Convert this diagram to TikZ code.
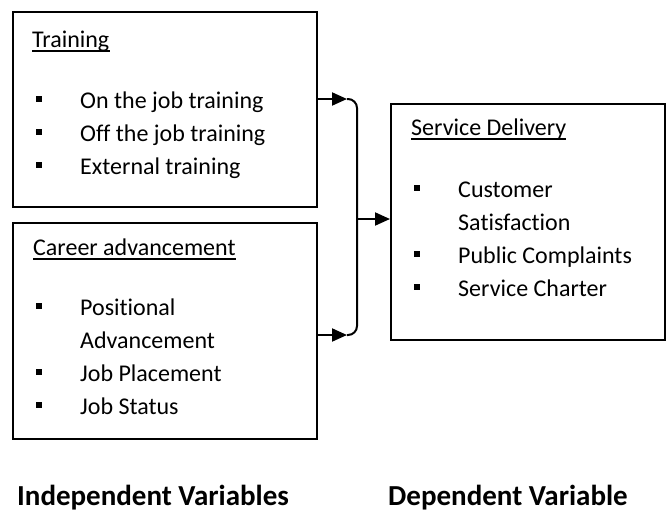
\documentclass[tikz,border=0pt]{standalone}
\usepackage{fontspec}
\setmainfont[Ligatures=NoCommon]{Carlito}
\usetikzlibrary{arrows.meta}

\tikzset{
	box/.style={draw, line width=2pt, anchor=north west, inner sep=0pt},
	item/.style={anchor=base west, inner sep=0pt, font=\fontsize{24}{28}\selectfont},
	foot/.style={anchor=base west, inner sep=0pt, font=\fontsize{29}{34}\selectfont\bfseries},
	uline/.style={line width=1.8pt},
	link/.style={line width=2pt, -{Triangle[length=15pt,width=13pt]}}
}

\begin{document}
\begin{tikzpicture}[x=1pt,y=-1pt]
	\useasboundingbox (0,0) rectangle (668,512);

	% boxes
	\node[box, minimum width=304pt, minimum height=195pt] (train) at (12,11) {};
	\node[box, minimum width=304pt, minimum height=216pt] (career) at (12,222) {};
	\node[box, minimum width=274pt, minimum height=236pt] (svc) at (390,103) {};

	% headings
	\node[item] (trh) at (32,47) {Training};
	\node[item] (cah) at (33,255) {Career advancement};
	\node[item] (svh) at (411,135) {Service Delivery};
	\foreach \h in {trh,cah,svh}
		\draw[uline] ([yshift=-4pt]\h.base west) -- ([yshift=-4pt]\h.base east);

	% items
	\foreach \y/\txt [count=\i] in {108/On the job training,141/Off the job training,174/External training}
		\node[item] (tr\i) at (80,\y) {\txt};
	\foreach \y/\txt [count=\i] in {315/Positional,348/Advancement,381/Job Placement,414/Job Status}
		\node[item] (ca\i) at (80,\y) {\txt};
	\foreach \y/\txt [count=\i] in {197/Customer,230/Satisfaction,263/Public Complaints,296/Service Charter}
		\node[item] (sv\i) at (458,\y) {\txt};

	% bullets
	\foreach \y in {108,141,174,315,381,414}
		\fill (35.5,\y-12.5) rectangle ++(6,6);
	\foreach \y in {197,263,296}
		\fill (414,\y-12.5) rectangle ++(6,6);

	% connectors
	\coordinate (brtop) at (347,99);
	\coordinate (brbot) at (347,335);
	\coordinate (brmid) at (357,219);
	\draw[link] (train.east |- brtop) -- (brtop);
	\draw[link] (career.east |- brbot) -- (brbot);
	\draw[line width=2pt, rounded corners=9pt] (brtop) -| (brmid) |- (brbot);
	\draw[link] (brmid) -- (svc.west |- brmid);

	% captions
	\node[foot] (indep) at (17,505) {Independent Variables};
	\node[foot] (dep) at (388,505) {Dependent Variable};
\end{tikzpicture}
\end{document}
